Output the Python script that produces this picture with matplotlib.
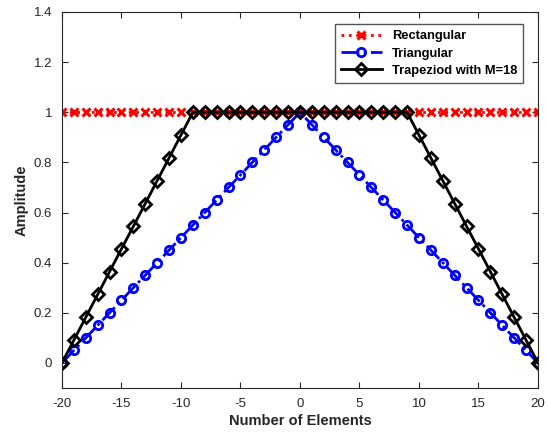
import matplotlib
matplotlib.use("Agg")
import matplotlib.pyplot as plt

plt.rcParams.update({
    "font.family": ["Liberation Sans", "DejaVu Sans"],
    "font.size": 9,
    "axes.unicode_minus": False,
    "xtick.direction": "in", "ytick.direction": "in",
    "xtick.top": True, "ytick.right": True,
})

# element index
n = list(range(-20, 21))

rect = [1.0] * 41

tri = [0.00, 0.05, 0.10, 0.15, 0.20, 0.25, 0.30, 0.35, 0.40, 0.45,
       0.50, 0.55, 0.60, 0.65, 0.70, 0.75, 0.80, 0.85, 0.90, 0.95,
       1.00,
       0.95, 0.90, 0.85, 0.80, 0.75, 0.70, 0.65, 0.60, 0.55, 0.50,
       0.45, 0.40, 0.35, 0.30, 0.25, 0.20, 0.15, 0.10, 0.05, 0.00]

trap = [0.000, 0.091, 0.182, 0.273, 0.364, 0.455, 0.545, 0.636, 0.727, 0.818,
        0.909, 1, 1, 1, 1, 1, 1, 1, 1, 1,
        1,
        1, 1, 1, 1, 1, 1, 1, 1, 1, 0.909,
        0.818, 0.727, 0.636, 0.545, 0.455, 0.364, 0.273, 0.182, 0.091, 0.000]

fig = plt.figure(figsize=(5.48, 4.36), dpi=100)
ax = fig.add_axes([0.1131, 0.1101, 0.8686, 0.8624])

ax.plot(n, rect, ":", color="red", lw=2, marker="x", ms=5.5, mew=2.2,
        label="Rectangular")
ax.plot(n, tri, "-.", color="blue", lw=2, marker="o", ms=6, mew=2,
        mfc="none", label="Triangular")
ax.plot(n, trap, "-", color="black", lw=2, marker="D", ms=6.5, mew=2,
        mfc="none", label="Trapeziod with M=18")

ax.set_xlim(-20, 20)
ax.set_ylim(-0.1, 1.4)
ax.set_xticks(range(-20, 21, 5))
ax.set_yticks([0, 0.2, 0.4, 0.6, 0.8, 1, 1.2, 1.4])
ax.set_yticklabels(["0", "0.2", "0.4", "0.6", "0.8", "1", "1.2", "1.4"])
ax.tick_params(labelsize=9.5, colors="#262626", length=4, width=0.8)
ax.tick_params(axis="x", pad=7)
ax.tick_params(axis="y", pad=7)
for s in ax.spines.values():
    s.set_color("#262626"); s.set_linewidth(0.8)

ax.set_xlabel("Number of Elements", fontweight="bold", fontsize=10.5,
              color="#262626", labelpad=3)
ax.set_ylabel("Amplitude", fontweight="bold", fontsize=10.5,
              color="#262626", labelpad=4)

leg = ax.legend(loc="upper right", prop={"weight": "bold", "size": 9.3},
                fancybox=False, edgecolor="#555555", framealpha=1,
                handlelength=3.2, borderpad=0.45, labelspacing=0.4,
                bbox_to_anchor=(0.983, 0.984))
leg.get_frame().set_linewidth(1.0)

fig.savefig("out.png", dpi=100)
